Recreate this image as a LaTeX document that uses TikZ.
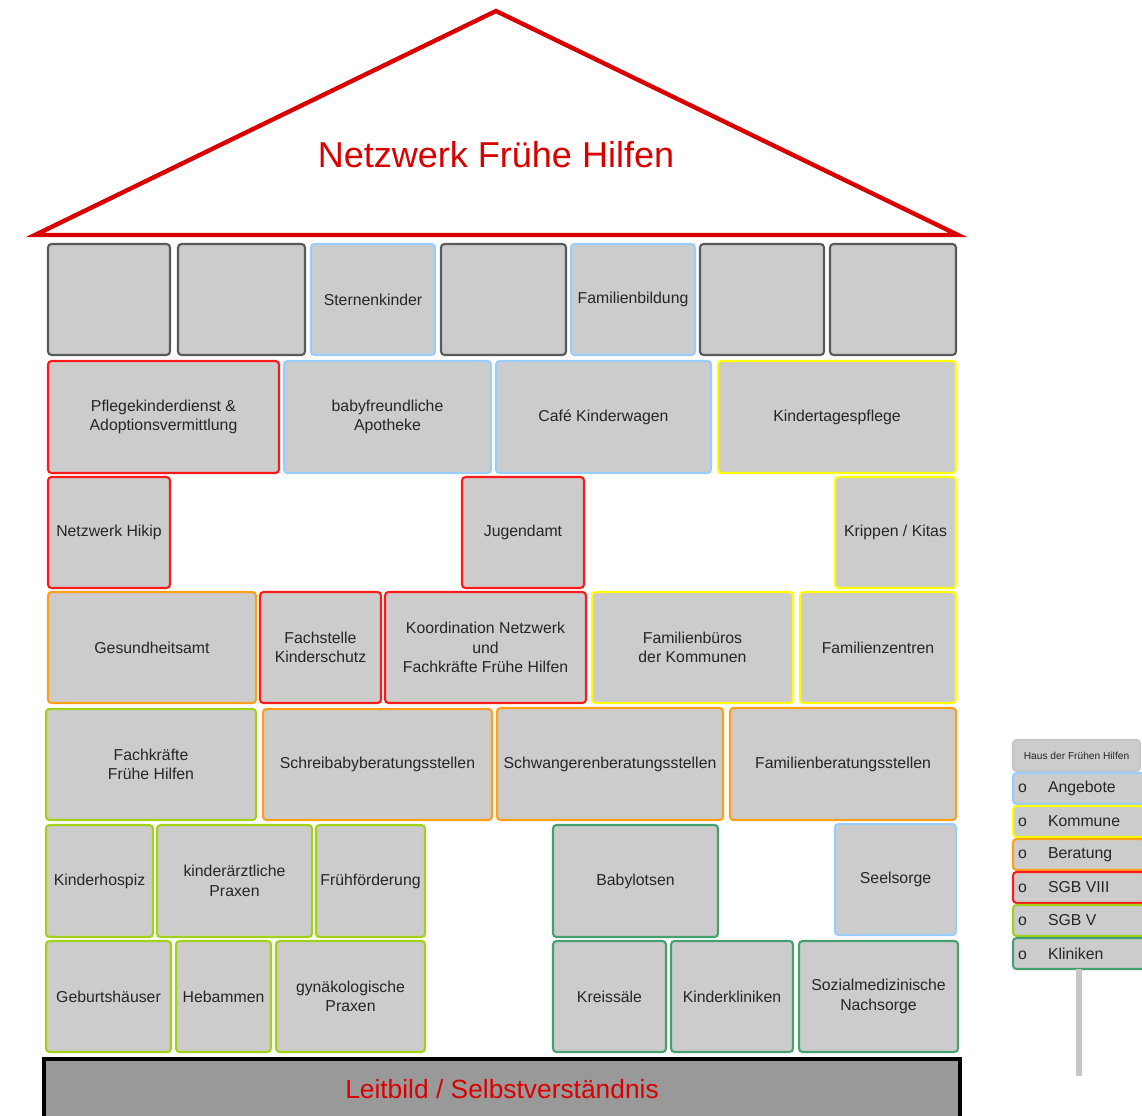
\documentclass[tikz,border=0pt]{standalone}
\usepackage{fontspec}
\setmainfont{Liberation Sans}
\usepackage{tikz}
\definecolor{angebot}{HTML}{99CCFF}
\definecolor{kommune}{HTML}{FFFF00}
\definecolor{beratung}{HTML}{FF9F1A}
\definecolor{sgbacht}{HTML}{FF1A1A}
\definecolor{sgbfuenf}{HTML}{A3D11A}
\definecolor{klinik}{HTML}{45A070}
\definecolor{leer}{HTML}{5A5A5A}
\definecolor{dach}{HTML}{D90000}
\definecolor{kasten}{HTML}{CCCCCC}
\definecolor{sockel}{HTML}{999999}

\begin{document}
\begin{tikzpicture}[
    x=0.02cm, y=-0.02cm,
    span/.style args={#1/#2/#3/#4}{
        at={({((#1)+(#3))/2},{((#2)+(#4))/2})},
        minimum width={((#3)-(#1))*0.02cm},
        minimum height={((#4)-(#2))*0.02cm}
      },
    brick/.style={
        draw=#1, fill=kasten, inner sep=0, outer sep=0,
        line width=1.2pt, rounded corners=2pt,
        align=center, text=black!85,
        font=\fontsize{9}{11.1}\selectfont
      },
    legitem/.style={
        draw=#1, fill=kasten, inner sep=0, outer sep=0,
        line width=1.2pt, rounded corners=2pt,
        text=black!85, font=\fontsize{9}{11}\selectfont
      }
  ]
  \useasboundingbox (0,0) rectangle (1142,1115);
  \clip (0,0) rectangle (1142,1115);

  % Dach
  \coordinate (giebel) at (496,11);
  \coordinate (traufeL) at (35,235);
  \coordinate (traufeR) at (958,235);
  \draw[dach, line width=2.5pt, line join=miter] (traufeL) -- (giebel) -- (traufeR) -- cycle;
  \node[text=dach, font=\fontsize{20.5}{24}\selectfont] (titel) at (496,155) {Netzwerk Frühe Hilfen};

  % Reihe 1
  \node[brick=leer, span=48/244/170/355] (leer1) {};
  \node[brick=leer, span=178/244/305/355] (leer2) {};
  \node[brick=angebot, span=311/244/435/355] (stern) {Sternenkinder};
  \node[brick=leer, span=441/244/566/355] (leer3) {};
  \node[brick=angebot, span=571/244/695/355] (bildung) {Familienbildung};
  \node[brick=leer, span=700/244/824/355] (leer4) {};
  \node[brick=leer, span=830/244/956/355] (leer5) {};

  % Reihe 2
  \node[brick=sgbacht, span=48/361/279/473] (pflege) {Pflegekinderdienst \&\\ Adoptionsvermittlung};
  \node[brick=angebot, span=284/361/491/473] (apotheke) {babyfreundliche\\ Apotheke};
  \node[brick=angebot, span=496/361/711/473] (cafe) {Café Kinderwagen};
  \node[brick=kommune, span=718/361/956/473] (tagespflege) {Kindertagespflege};

  % Reihe 3
  \node[brick=sgbacht, span=48/477/170/588] (hikip) {Netzwerk Hikip};
  \node[brick=sgbacht, span=462/477/584/588] (jugendamt) {Jugendamt};
  \node[brick=kommune, span=835/477/956/588] (kitas) {Krippen / Kitas};

  % Reihe 4
  \node[brick=beratung, span=48/592/256/703] (gesundheit) {Gesundheitsamt};
  \node[brick=sgbacht, span=260/592/381/703] (kinderschutz) {Fachstelle\\ Kinderschutz};
  \node[brick=sgbacht, span=385/592/586/703] (koordination) {Koordination Netzwerk\\ und\\ Fachkräfte Frühe Hilfen};
  \node[brick=kommune, span=592/592/793/703] (bueros) {Familienbüros\\ der Kommunen};
  \node[brick=kommune, span=800/592/956/703] (zentren) {Familienzentren};

  % Reihe 5
  \node[brick=sgbfuenf, span=46/709/256/820] (fachkraefte) {Fachkräfte\\ Frühe Hilfen};
  \node[brick=beratung, span=263/709/492/820] (schreibaby) {Schreibabyberatungsstellen};
  \node[brick=beratung, span=497/708/723/820] (schwanger) {Schwangerenberatungsstellen};
  \node[brick=beratung, span=730/708/956/820] (famberatung) {Familienberatungsstellen};

  % Reihe 6
  \node[brick=sgbfuenf, span=46/825/153/937] (hospiz) {Kinderhospiz};
  \node[brick=sgbfuenf, span=157/825/312/937] (kinderarzt) {kinderärztliche\\ Praxen};
  \node[brick=sgbfuenf, span=316/825/425/937] (foerderung) {Frühförderung};
  \node[brick=klinik, span=553/825/718/937] (lotsen) {Babylotsen};
  \node[brick=angebot, span=835/824/956/935] (seelsorge) {Seelsorge};

  % Reihe 7
  \node[brick=sgbfuenf, span=46/941/171/1052] (geburt) {Geburtshäuser};
  \node[brick=sgbfuenf, span=176/941/271/1052] (hebammen) {Hebammen};
  \node[brick=sgbfuenf, span=276/941/425/1052] (gyn) {gynäkologische\\ Praxen};
  \node[brick=klinik, span=553/941/666/1052] (kreissaal) {Kreissäle};
  \node[brick=klinik, span=671/941/793/1052] (kinderklinik) {Kinderkliniken};
  \node[brick=klinik, span=799/941/958/1052] (nachsorge) {Sozialmedizinische\\ Nachsorge};

  % Fundament
  \node[span=44/1059/960/1120, inner sep=0, draw=black, line width=2.8pt, fill=sockel,
    text=dach, font=\fontsize{15}{18}\selectfont] (leitbild) {Leitbild / Selbstverständnis};

  % Legende
  \node[legitem=gray!45, span=1013/740/1140/771, font=\fontsize{5.8}{7}\selectfont] (legkopf) {Haus der Frühen Hilfen};
  \foreach [count=\k] \farbe/\name in {angebot/Angebote, kommune/Kommune, beratung/Beratung,
      sgbacht/SGB VIII, sgbfuenf/SGB V, klinik/Kliniken} {
      \node[legitem=\farbe, span=1013/740+\k*33/1145/771+\k*33]
      (leg\k)
      {\makebox[2.44cm][l]{\makebox[0.6cm][l]{o}\name}};
    }
  \coordinate (pfahl) at (1079,1076);
  \draw[gray!45, line width=3.2pt] (leg6.south) -- (pfahl);
\end{tikzpicture}
\end{document}
